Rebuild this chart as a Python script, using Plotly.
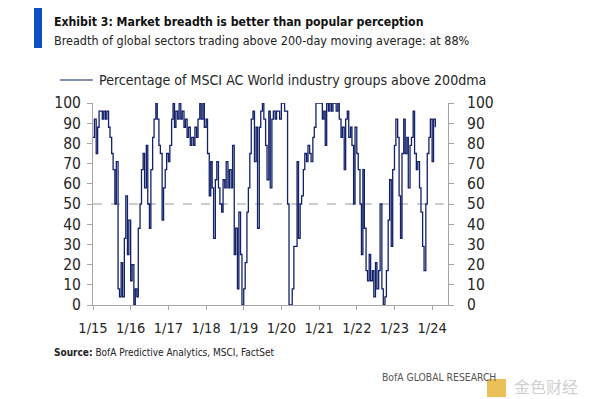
import plotly.graph_objects as go

# semi-monthly observation dates (1st and 15th), Jan 2015 - Feb 2024
dates = []
for yr in range(2015, 2025):
    for mo in range(1, 13):
        for dd in (1, 15):
            dates.append(f"{yr}-{mo:02d}-{dd:02d}")
values = [
    # 2015
    83, 92, 75, 88, 96, 96, 92, 96, 92, 96, 88, 83, 75, 67, 50, 71, 8, 4, 21, 4, 33, 54, 25, 42,
    # 2016
    12, 20, 0, 8, 4, 38, 50, 67, 75, 58, 79, 50, 38, 67, 83, 92, 100, 92, 79, 75, 42, 58, 67, 75,
    # 2017
    71, 79, 92, 100, 88, 96, 92, 100, 92, 96, 88, 92, 83, 88, 79, 83, 79, 88, 83, 92, 100, 92, 100, 88,
    # 2018
    92, 75, 54, 71, 58, 33, 62, 71, 58, 50, 46, 62, 58, 71, 58, 67, 58, 79, 25, 38, 8, 46, 25, 0,
    # 2019
    8, 21, 46, 58, 75, 92, 96, 71, 88, 38, 88, 96, 100, 92, 79, 62, 96, 58, 92, 96, 92, 96, 96, 92,
    # 2020
    100, 100, 96, 96, 50, 0, 0, 8, 29, 29, 71, 33, 50, 54, 67, 75, 71, 79, 75, 71, 83, 88, 100, 100,
    # 2021
    100, 100, 92, 96, 79, 100, 96, 100, 96, 100, 100, 96, 100, 92, 83, 88, 67, 92, 96, 83, 88, 79, 50, 88,
    # 2022
    75, 67, 50, 25, 67, 38, 17, 12, 25, 12, 17, 4, 21, 8, 17, 50, 8, 0, 4, 17, 42, 62, 29, 67,
    # 2023
    79, 92, 83, 54, 33, 75, 92, 75, 83, 58, 79, 83, 96, 75, 67, 71, 58, 46, 29, 17, 50, 75, 83, 92,
    # 2024
    71, 92, 88,
]
dates = dates[:len(values)]

y_ticks = list(range(0, 101, 10))
x_tick_dates = [f"{y}-01-01" for y in range(2015, 2025)]
x_tick_labels = [f"1/{str(y)[2:]}" for y in range(2015, 2025)]

title_text = "<b>Exhibit 3: Market breadth is better than popular perception</b>"
subtitle_text = "Breadth of global sectors trading above 200-day moving average: at 88%"
legend_text = "Percentage of MSCI AC World industry groups above 200dma"
source_text = "<b>Source:</b> BofA Predictive Analytics, MSCI, FactSet"
brand_text = "BofA GLOBAL RESEARCH"
watermark_text = "金色财经"

FONT = "DejaVu Sans Condensed, Liberation Sans Narrow, Liberation Sans, sans-serif"
LINE = "#13216a"
AX = "#a6a6a6"
TXT = "#262626"

OFF = 8  # page body margin
W, H = 600 - OFF, 399 - OFF
L, R, T, B = 93, 448, 103, 305  # plot area in screenshot pixels


def px(x):
    return (x - L) / (R - L)


def py(y):
    return (B - y) / (B - T)


fig = go.Figure()
fig.add_trace(go.Scatter(x=dates, y=values, mode="lines", line=dict(color=LINE, width=1.3, shape="hv"),
                         showlegend=False, hoverinfo="skip"))
fig.add_trace(go.Scatter(x=dates, y=values, yaxis="y2", mode="lines", line=dict(width=0),
                         showlegend=False, hoverinfo="skip", opacity=0))

fig.update_layout(
    width=W, height=H,
    margin=dict(l=L - OFF, r=W - (R - OFF), t=T - OFF, b=H - (B - OFF), pad=0),
    paper_bgcolor="white", plot_bgcolor="white",
    font=dict(family=FONT, color=TXT, size=15),
    xaxis=dict(type="date", range=["2015-01-01", "2024-06-03"], tickmode="array",
               tickvals=x_tick_dates, ticktext=x_tick_labels, showgrid=False, zeroline=False,
               showline=True, linecolor=AX, linewidth=1, ticks="outside", ticklen=4,
               tickcolor=AX, ticklabelstandoff=6, tickfont=dict(size=14.5)),
    yaxis=dict(range=[0, 100], tickmode="array", tickvals=y_ticks, showgrid=False, zeroline=False,
               showline=True, linecolor=AX, linewidth=1, ticks="outside", ticklen=5, tickcolor=AX,
               tickfont=dict(size=15.5), ticklabelstandoff=3),
    yaxis2=dict(range=[0, 100], tickmode="array", tickvals=y_ticks, overlaying="y", side="right",
                showgrid=False, zeroline=False, showline=True, linecolor=AX, linewidth=1,
                ticks="outside", ticklen=5, tickcolor=AX, tickfont=dict(size=15.5),
                ticklabelstandoff=10),
)

# 50% reference line
fig.add_shape(type="line", xref="paper", yref="y", x0=0, x1=1, y0=50, y1=50,
              line=dict(color="#9a9a9a", width=1, dash="dash"), layer="below")

# header bar
fig.add_shape(type="rect", xref="paper", yref="paper", x0=px(34), x1=px(42), y0=py(48), y1=py(8),
              fillcolor="#0b4fc0", line=dict(width=0))
# legend line
fig.add_shape(type="line", xref="paper", yref="paper", x0=px(60), x1=px(93), y0=py(80), y1=py(80),
              line=dict(color=LINE, width=1.2))

ann = [
    (title_text, 52, 22, 12.2, "#111111"),
    (subtitle_text, 52, 41, 12.5, "#222222"),
    (legend_text, 97, 80, 14.1, TXT),
    (source_text, 52, 352, 10, "#222222"),
    (brand_text, 380, 377, 10.3, "#555555"),
]
for text, x, y, size, col in ann:
    fig.add_annotation(text=text, xref="paper", yref="paper", x=px(x), y=py(y), xanchor="left",
                       yanchor="middle", showarrow=False, font=dict(size=size, color=col, family=FONT))

# watermark
fig.add_shape(type="rect", xref="paper", yref="paper", x0=px(487), x1=px(506), y0=py(397), y1=py(379),
              fillcolor="#e8b53a", line=dict(width=0), opacity=0.85)
fig.add_annotation(text=watermark_text, xref="paper", yref="paper", x=px(512), y=py(386),
                   xanchor="left", yanchor="middle", showarrow=False,
                   font=dict(size=16, color="#d0d0d0", family="Noto Sans CJK SC"))

fig.write_html("out.html")
